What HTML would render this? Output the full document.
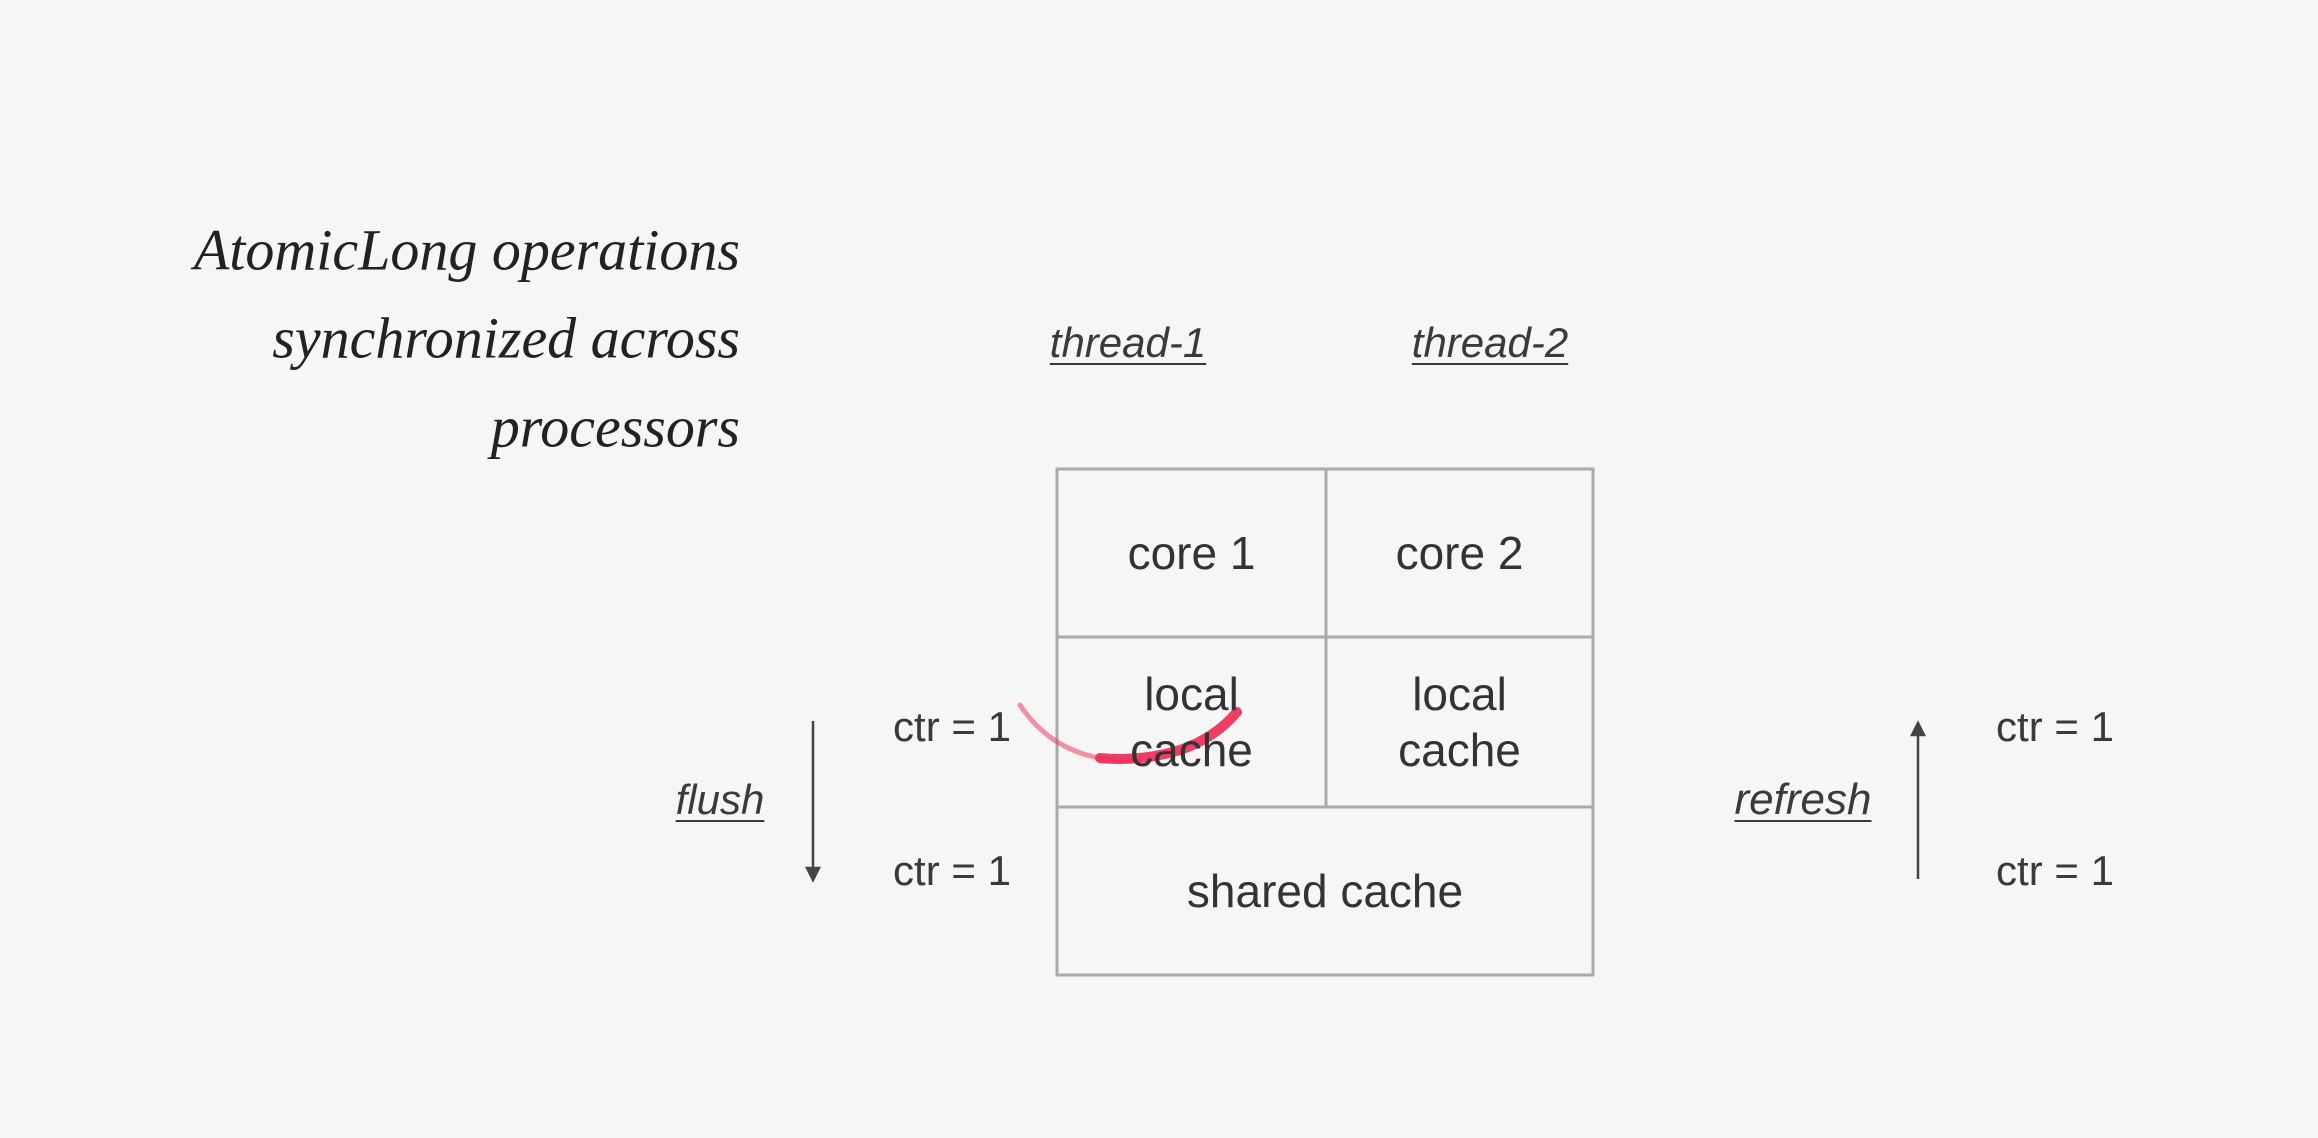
<!DOCTYPE html>
<html><head><style>
body{margin:0;width:2318px;height:1138px;background:#f6f6f6;position:relative;overflow:hidden;font-family:"Liberation Sans",sans-serif;color:#333}
.t{position:absolute;white-space:nowrap;transform:translate(-50%,-50%);font-size:42px;color:#3a3a3a}
.u{font-style:italic;text-decoration:underline;text-decoration-thickness:2px;text-underline-offset:6px;font-size:42px}
.h{position:absolute;right:1578px;font-family:"Liberation Serif",serif;font-style:italic;font-size:58px;color:#222;white-space:nowrap;transform:translateY(-50%)}
.c{position:absolute;text-align:center;font-size:46px;line-height:56px;color:#333;display:flex;align-items:center;justify-content:center}
</style></head><body>
<div class="h" style="top:250px">AtomicLong operations</div>
<div class="h" style="top:338px">synchronized across</div>
<div class="h" style="top:427px">processors</div>
<div class="t u" style="left:1128px;top:343px">thread-1</div>
<div class="t u" style="left:1490px;top:343px">thread-2</div>
<div class="t u" style="left:720px;top:800px">flush</div>
<div class="t u" style="left:1803px;top:800px;font-size:44px">refresh</div>
<div class="t" style="left:952px;top:727px">ctr = 1</div>
<div class="t" style="left:952px;top:871px">ctr = 1</div>
<div class="t" style="left:2055px;top:727px">ctr = 1</div>
<div class="t" style="left:2055px;top:871px">ctr = 1</div>
<svg width="2318" height="1138" style="position:absolute;left:0;top:0">
<g stroke="#aaa" stroke-width="3" fill="none">
<rect x="1057" y="469" width="536" height="506"/>
<line x1="1057" y1="637" x2="1593" y2="637"/>
<line x1="1057" y1="807" x2="1593" y2="807"/>
<line x1="1326" y1="469" x2="1326" y2="807"/>
</g>
<g stroke="#444" stroke-width="2.5" fill="#444">
<line x1="813" y1="721" x2="813" y2="872"/><path d="M807 868 L813 880 L819 868Z"/>
<line x1="1918" y1="731" x2="1918" y2="879"/><path d="M1912 735 L1918 723 L1924 735Z"/>
</g>
<path d="M1020 705 Q1060 765 1140 760" stroke="#ee2a55" stroke-width="5" fill="none" stroke-linecap="round" opacity="0.5"/>
<path d="M1100 758 Q1140 762 1180 750 Q1215 738 1237 712" stroke="#ee2a55" stroke-width="10" fill="none" stroke-linecap="round" opacity="0.9"/>
</svg>
<div class="c" style="left:1057px;top:469px;width:269px;height:168px">core 1</div>
<div class="c" style="left:1326px;top:469px;width:267px;height:168px">core 2</div>
<div class="c" style="left:1057px;top:637px;width:269px;height:170px">local<br>cache</div>
<div class="c" style="left:1326px;top:637px;width:267px;height:170px">local<br>cache</div>
<div class="c" style="left:1057px;top:807px;width:536px;height:168px">shared cache</div>
</body></html>
